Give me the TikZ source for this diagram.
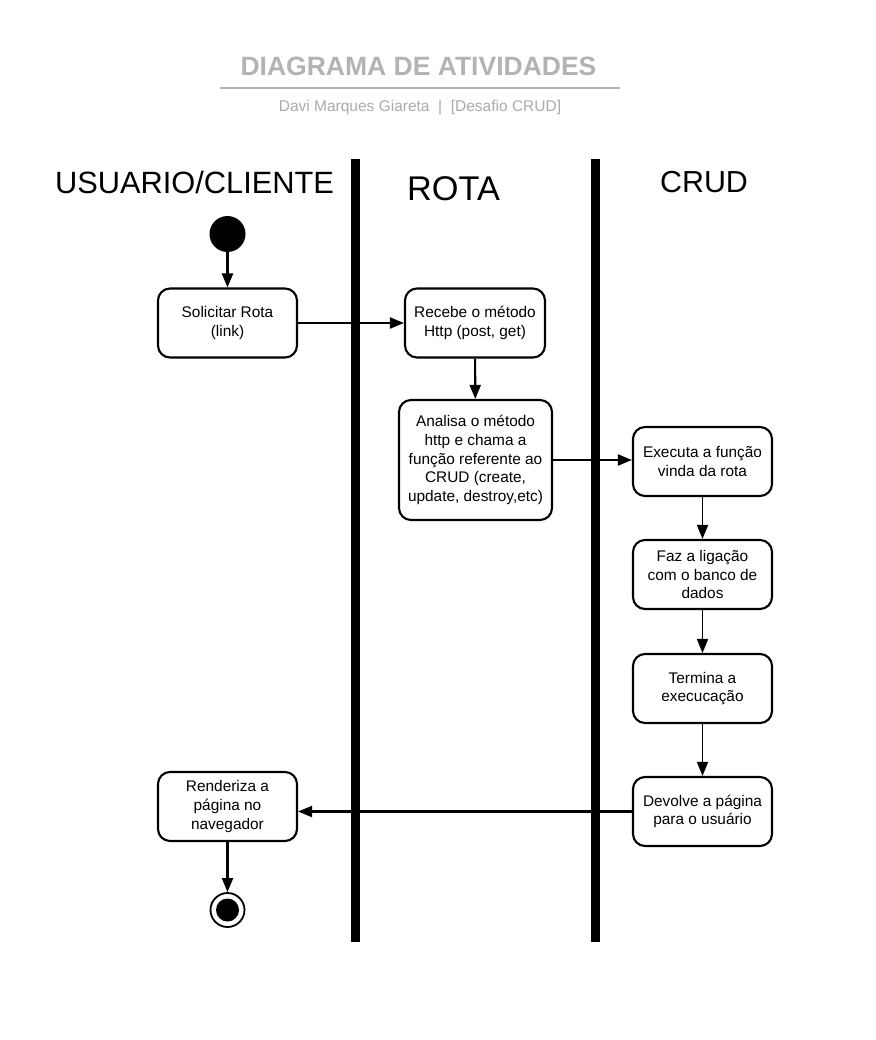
\documentclass[tikz,border=0pt]{standalone}
\usepackage{fontspec}
\setmainfont{Liberation Sans}
\usetikzlibrary{arrows.meta}
\definecolor{titlegray}{HTML}{B3B3B3}
\definecolor{subgray}{HTML}{ABABAB}
\begin{document}
\begin{tikzpicture}[x=1pt,y=-1pt,
  act/.style={draw=black, line width=2.1pt, rounded corners=12pt, fill=white,
    minimum width=139pt, minimum height=69pt, align=center, inner sep=2pt,
    font=\fontsize{15.4}{18.6}\selectfont},
  flow/.style={line width=2.1pt, -{Triangle[length=14pt,width=11pt]}},
  thinflow/.style={line width=1.7pt, -{Triangle[length=14pt,width=11pt]}},
  lane/.style={font=\fontsize{30.8}{36}\selectfont, anchor=center},
  bar/.style={fill=black}
]
\useasboundingbox (0,0) rectangle (875,1040);
\fill[white] (0,0) rectangle (875,1040);

% title
\node[text=titlegray, font=\bfseries\fontsize{26.5}{30}\selectfont] (title) at (418.5,66) {DIAGRAMA DE ATIVIDADES};
\draw[titlegray, line width=1.8pt] (220,88) coordinate (tl) -- (620,88) coordinate (tr);
\node[text=subgray, font=\fontsize{15.5}{18}\selectfont] (sub) at (420,108) {Davi Marques Giareta \ |\ \ [Desafio CRUD]};

% lane headers
\node[lane] (h1) at (194.5,182) {USUARIO/CLIENTE};
\node[lane, font=\fontsize{34.3}{40}\selectfont] (h2) at (453.5,189) {ROTA};
\node[lane, font=\fontsize{30.4}{36}\selectfont] (h3) at (704,182) {CRUD};

% bars
\fill[bar] (350.5,159) rectangle (359.5,942);
\fill[bar] (590.5,159) rectangle (599.5,942);

% start / end
\node[circle, fill=black, minimum size=36pt, inner sep=0pt] (start) at (227.5,234) {};
\node[circle, draw=black, line width=1.8pt, fill=white, minimum size=34pt, inner sep=0pt] (endo) at (227.5,910) {};
\node[circle, fill=black, minimum size=23pt, inner sep=0pt] (endi) at (227.5,910) {};

% activities
\node[act] (sol) at (227.5,323) {Solicitar Rota\\(link)};
\node[act, minimum width=140pt] (rec) at (475,323) {Recebe o método\\Http (post, get)};
\node[act, minimum width=153pt, minimum height=120pt] (ana) at (475.5,460) {Analisa o método\\http e chama a\\função referente ao\\CRUD (create,\\update, destroy,etc)};
\node[act] (exe) at (702.5,461.5) {Executa a função\\vinda da rota};
\node[act] (faz) at (702.5,574.5) {Faz a ligação\\com o banco de\\dados};
\node[act] (ter) at (702.5,688.5) {Termina a\\execucação};
\node[act] (dev) at (702.5,811.5) {Devolve a página\\para o usuário};
\node[act] (ren) at (227.5,806.5) {Renderiza a\\página no\\navegador};

% connectors
\draw[flow] (start) -- (sol);
\draw[flow] (sol) -- (rec);
\draw[flow] (rec) -- (ana);
\draw[flow] (ana.east) -- (ana.east -| exe.west);
\draw[thinflow] (exe) -- (faz);
\draw[thinflow] (faz) -- (ter);
\draw[thinflow] (ter) -- (dev);
\draw[flow] (dev.west) -- (dev.west -| ren.east);
\draw[flow] (ren) -- (endo);
\end{tikzpicture}
\end{document}
